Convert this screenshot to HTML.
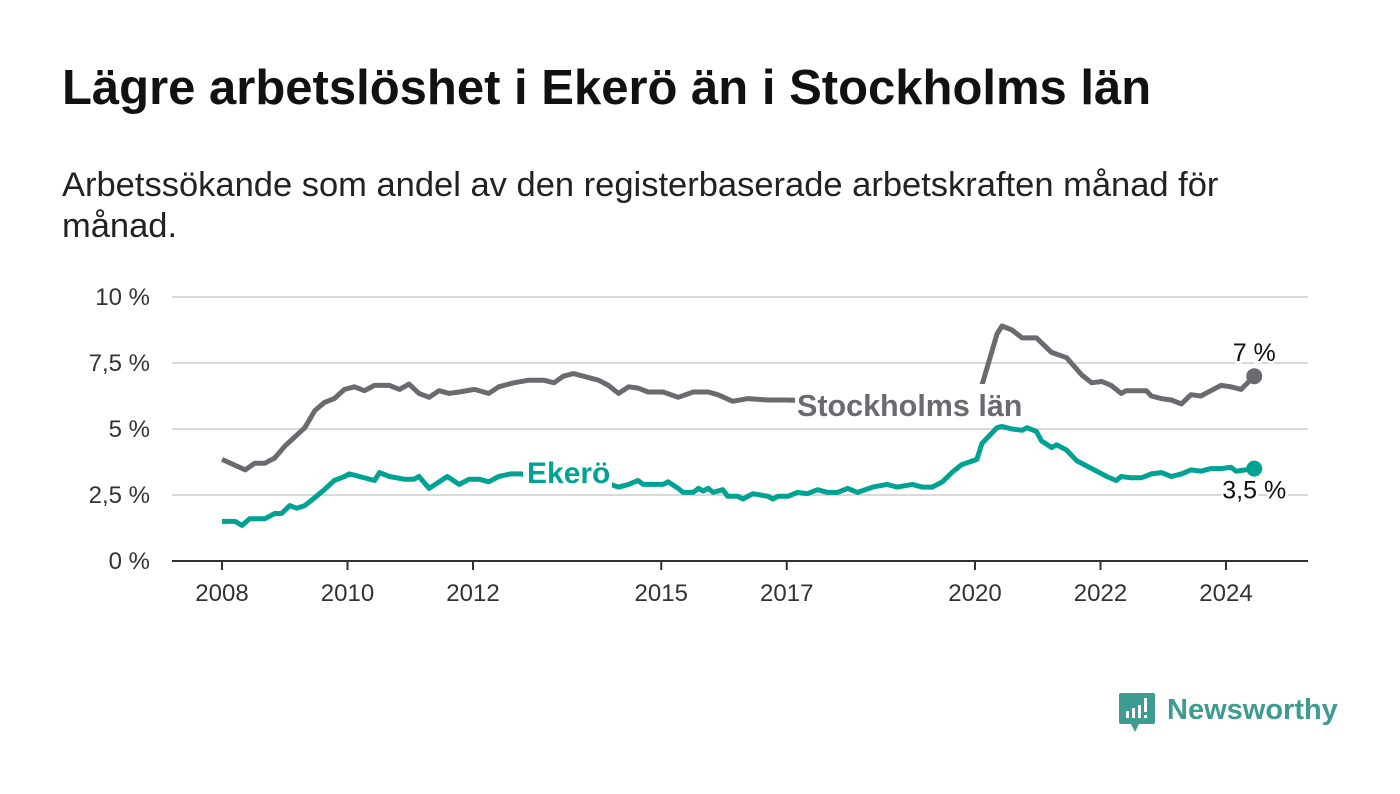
<!DOCTYPE html>
<html><head><meta charset="utf-8">
<style>
body{margin:0;background:#fff;width:1400px;height:794px;overflow:hidden;font-family:"Liberation Sans",sans-serif;}
#title{position:absolute;left:62px;top:60px;font-size:49px;font-weight:bold;color:#111;margin:0;white-space:nowrap}
#sub{position:absolute;left:62px;top:165px;font-size:34.5px;color:#222;line-height:41px;width:1240px;margin:0}
svg{position:absolute;left:0;top:0}
</style></head><body>
<h1 id="title">Lägre arbetslöshet i Ekerö än i Stockholms län</h1>
<p id="sub">Arbetssökande som andel av den registerbaserade arbetskraften månad för<br>månad.</p>
<svg id="chart" width="1400" height="794"></svg>
<script>
const yTicks=[0,2.5,5,7.5,10];
const yTickLabels=["0 %","2,5 %","5 %","7,5 %","10 %"];
const xTicks=[2008,2010,2012,2015,2017,2020,2022,2024];
const sthlmYears=[2008.00,2008.37,2008.52,2008.68,2008.84,2009.00,2009.16,2009.32,2009.48,2009.63,2009.79,2009.95,2010.11,2010.27,2010.43,2010.67,2010.83,2010.98,2011.14,2011.30,2011.46,2011.62,2011.78,2012.02,2012.25,2012.41,2012.65,2012.89,2013.13,2013.29,2013.44,2013.60,2013.76,2014.00,2014.16,2014.32,2014.48,2014.63,2014.79,2015.03,2015.27,2015.51,2015.75,2015.90,2016.14,2016.38,2016.70,2017.02,2018.0,2019.0,2019.8,2020.05,2020.11,2020.35,2020.43,2020.59,2020.75,2020.98,2021.22,2021.46,2021.70,2021.86,2022.02,2022.17,2022.33,2022.41,2022.73,2022.81,2022.97,2023.13,2023.29,2023.44,2023.60,2023.76,2023.92,2024.08,2024.24,2024.45];
const sthlmValues=[3.85,3.45,3.7,3.7,3.9,4.35,4.7,5.05,5.7,6.0,6.15,6.5,6.6,6.45,6.65,6.65,6.5,6.7,6.35,6.2,6.45,6.35,6.4,6.5,6.35,6.6,6.75,6.85,6.85,6.75,7.0,7.1,7.0,6.85,6.65,6.35,6.6,6.55,6.4,6.4,6.2,6.4,6.4,6.3,6.05,6.15,6.1,6.1,6.0,5.9,6.0,6.2,6.65,8.6,8.9,8.75,8.45,8.45,7.9,7.7,7.05,6.75,6.8,6.65,6.35,6.45,6.45,6.25,6.15,6.1,5.95,6.3,6.25,6.45,6.65,6.6,6.5,7.0];
const ekeroYears=[2008.00,2008.21,2008.32,2008.44,2008.68,2008.84,2008.95,2009.08,2009.19,2009.32,2009.48,2009.63,2009.79,2009.95,2010.03,2010.19,2010.43,2010.51,2010.67,2010.90,2011.06,2011.14,2011.30,2011.46,2011.59,2011.78,2011.94,2012.10,2012.25,2012.41,2012.60,2012.76,2013.3,2013.9,2014.19,2014.32,2014.48,2014.63,2014.71,2015.03,2015.11,2015.27,2015.35,2015.51,2015.59,2015.67,2015.75,2015.83,2015.98,2016.06,2016.22,2016.30,2016.46,2016.70,2016.78,2016.86,2017.02,2017.17,2017.33,2017.49,2017.65,2017.81,2017.97,2018.13,2018.37,2018.60,2018.76,2019.00,2019.16,2019.32,2019.48,2019.63,2019.79,2020.03,2020.11,2020.35,2020.43,2020.59,2020.75,2020.83,2020.98,2021.06,2021.22,2021.30,2021.46,2021.62,2021.78,2021.94,2022.10,2022.25,2022.33,2022.49,2022.65,2022.81,2022.97,2023.13,2023.29,2023.44,2023.60,2023.76,2023.92,2024.08,2024.16,2024.45];
const ekeroValues=[1.5,1.5,1.35,1.6,1.6,1.8,1.8,2.1,2.0,2.1,2.4,2.7,3.05,3.2,3.3,3.2,3.05,3.35,3.2,3.1,3.1,3.2,2.75,3.0,3.2,2.9,3.1,3.1,3.0,3.2,3.3,3.3,3.1,3.0,2.9,2.8,2.9,3.05,2.9,2.9,3.0,2.75,2.6,2.6,2.75,2.65,2.75,2.6,2.7,2.45,2.45,2.35,2.55,2.45,2.35,2.45,2.45,2.6,2.55,2.7,2.6,2.6,2.75,2.6,2.8,2.9,2.8,2.9,2.8,2.8,3.0,3.35,3.65,3.85,4.45,5.05,5.1,5.0,4.95,5.05,4.9,4.55,4.3,4.4,4.2,3.8,3.6,3.4,3.2,3.05,3.2,3.15,3.15,3.3,3.35,3.2,3.3,3.45,3.4,3.5,3.5,3.55,3.4,3.5];

const NS="http://www.w3.org/2000/svg";
const svg=document.getElementById('chart');
const X=yr=>222+(yr-2008)*62.75;
const Y=v=>561-v*26.4;
function mk(tag,attrs,parent){const e=document.createElementNS(NS,tag);for(const k in attrs)e.setAttribute(k,attrs[k]);(parent||svg).appendChild(e);return e;}

yTicks.forEach((t,i)=>{
  const g=mk('line',{x1:172,x2:1308,y1:Y(t),y2:Y(t),stroke:t===0?'#333':'#d9d9d9','stroke-width':2});
  
  
  const tx=mk('text',{x:150,y:Y(t)+8,'text-anchor':'end','font-size':24,fill:'#333'});
  tx.textContent=yTickLabels[i];
  
  
});
xTicks.forEach(t=>{
  const l=mk('line',{x1:X(t),x2:X(t),y1:561,y2:570,stroke:'#333','stroke-width':2});
  
  
  const tx=mk('text',{x:X(t),y:601,'text-anchor':'middle','font-size':24,fill:'#333'});
  tx.textContent=String(t);
  
  
});
function series(years,vals,color,name){
  const d=years.map((y,i)=>(i?'L':'M')+X(y).toFixed(1)+','+Y(vals[i]).toFixed(1)).join('');
  const p=mk('path',{d:d,fill:'none',stroke:color,'stroke-width':5,'stroke-linejoin':'round'});
  
  
  const n=years.length-1;
  const c=mk('circle',{cx:X(years[n]),cy:Y(vals[n]),r:8,fill:color});
  
  
}
series(sthlmYears,sthlmValues,'#6b6a70','stockholm');
series(ekeroYears,ekeroValues,'#00a393','ekero');

const r1=mk('rect',{x:795,y:384,width:190,height:42,fill:'#fff'});


const r2=mk('rect',{x:523,y:452,width:89,height:42,fill:'#fff'});


const l1=mk('text',{x:797,y:416,'font-size':30.5,'font-weight':'bold',fill:'#6b6a70'});
l1.textContent='Stockholms län';


const l2=mk('text',{x:527,y:483,'font-size':30,'font-weight':'bold',fill:'#00a393'});
l2.textContent='Ekerö';


const e1=mk('text',{x:X(sthlmYears[sthlmYears.length-1]),y:Y(sthlmValues[sthlmValues.length-1])-15,'text-anchor':'middle','font-size':25,fill:'#111',stroke:'#fff','stroke-width':5,'paint-order':'stroke'});
e1.textContent='7 %';


const e2=mk('text',{x:X(ekeroYears[ekeroYears.length-1]),y:Y(ekeroValues[ekeroValues.length-1])+30,'text-anchor':'middle','font-size':25,fill:'#111',stroke:'#fff','stroke-width':5,'paint-order':'stroke'});
e2.textContent='3,5 %';


</script>
<svg width="1400" height="794" style="pointer-events:none">
  <path d="M1121 693 h32 a2 2 0 0 1 2 2 v27 a2 2 0 0 1 -2 2 h-14 l-4 8 l-4 -8 h-10 a2 2 0 0 1 -2 -2 v-27 a2 2 0 0 1 2 -2z" fill="#3d9b92"/>
  <rect x="1126" y="711" width="3" height="7" fill="#fff"/><rect x="1132" y="708" width="3" height="10" fill="#fff"/><rect x="1138" y="705" width="3" height="13" fill="#fff"/><rect x="1144" y="698" width="3" height="14" fill="#fff"/><rect x="1144" y="715" width="3" height="3" fill="#fff"/>
  <text x="1167" y="719" font-size="29" font-weight="bold" fill="#3d9b92" font-family="Liberation Sans, sans-serif">Newsworthy</text>
</svg>
</body></html>
